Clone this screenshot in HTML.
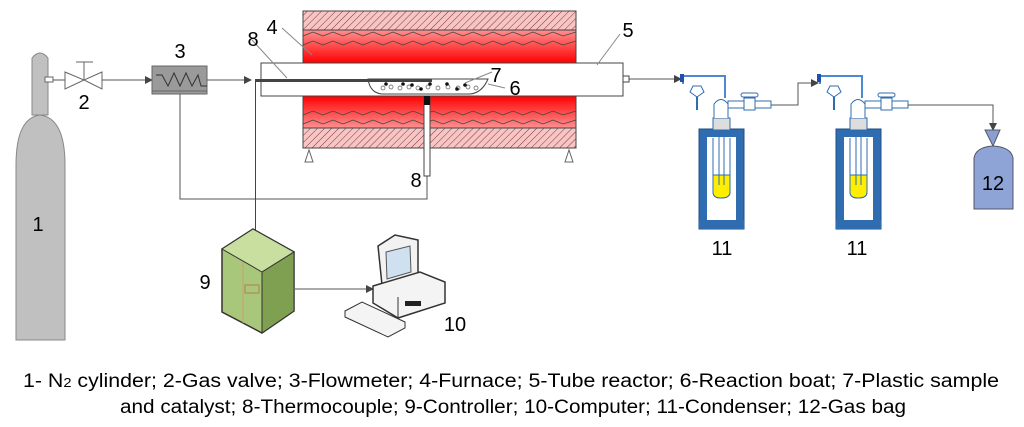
<!DOCTYPE html>
<html><head><meta charset="utf-8"><style>
html,body{margin:0;padding:0;background:#fff;}
svg{display:block;font-family:"Liberation Sans","DejaVu Sans",sans-serif;}
</style></head><body>
<svg width="1024" height="427" viewBox="0 0 1024 427" xmlns="http://www.w3.org/2000/svg">
<defs>
<pattern id="hatch" width="5" height="5" patternUnits="userSpaceOnUse" patternTransform="rotate(45)">
<rect width="5" height="5" fill="#f6c6c6"/><line x1="0" y1="0" x2="0" y2="5" stroke="#8a3030" stroke-width="1"/>
</pattern>
<linearGradient id="redT" x1="0" y1="0" x2="0" y2="1"><stop offset="0" stop-color="#ff9090"/><stop offset="1" stop-color="#ff0000"/></linearGradient>
<linearGradient id="redB" x1="0" y1="0" x2="0" y2="1"><stop offset="0" stop-color="#ff0000"/><stop offset="1" stop-color="#ff9090"/></linearGradient>
<marker id="ar" markerWidth="8" markerHeight="8" refX="7" refY="4" orient="auto" markerUnits="userSpaceOnUse"><path d="M0,0 L8,4 L0,8 Z" fill="#444"/></marker>
</defs>

<!-- cylinder -->
<path d="M32,115 L32,58 Q40,48 48,58 L48,115 Z" fill="#c0c0c0" stroke="#888"/>
<path d="M16,340 L16,165 Q16,118 40,115 Q65,118 65,165 L65,340 Z" fill="#c0c0c0" stroke="#888"/>
<rect x="45" y="77" width="8" height="5" fill="#fff" stroke="#666"/>
<text x="38" y="231" font-size="20" text-anchor="middle">1</text>

<!-- valve -->
<line x1="53" y1="80" x2="65" y2="80" stroke="#555"/>
<path d="M65,72 L84,80 L65,89 Z M102,72 L84,80 L102,89 Z" fill="#fff" stroke="#666"/>
<line x1="84" y1="62" x2="84" y2="80" stroke="#666"/><line x1="76" y1="62" x2="93" y2="62" stroke="#666"/>
<text x="84" y="109" font-size="20" text-anchor="middle">2</text>
<line x1="102" y1="80" x2="152" y2="80" stroke="#555" marker-end="url(#ar)"/>

<!-- flowmeter -->
<rect x="152" y="66" width="55" height="28" fill="#9a9a9a" stroke="#666"/>
<line x1="152" y1="91" x2="207" y2="91" stroke="#666"/>
<polyline points="156,75 162,75 168,86 174,73 180,86 186,73 192,86 198,75 201,86 207,86" fill="none" stroke="#333"/>
<text x="180" y="58" font-size="20" text-anchor="middle">3</text>
<line x1="207" y1="80" x2="251" y2="80" stroke="#555" marker-end="url(#ar)"/>
<polyline points="180,94 180,199 427,199 427,176" fill="none" stroke="#555"/>

<!-- furnace -->
<rect x="303" y="11" width="273" height="19" fill="url(#hatch)" stroke="#444"/>
<rect x="303" y="30" width="273" height="33" fill="url(#redT)" stroke="#444"/>
<polyline points="303,36 313,32 323,36 333,32 343,36 353,32 363,36 373,32 383,36 393,32 403,36 413,32 423,36 433,32 443,36 453,32 463,36 473,32 483,36 493,32 503,36 513,32 523,36 533,32 543,36 553,32 563,36 576,32" fill="none" stroke="#444" stroke-width="0.8"/>
<polyline points="303,45 313,41 323,45 333,41 343,45 353,41 363,45 373,41 383,45 393,41 403,45 413,41 423,45 433,41 443,45 453,41 463,45 473,41 483,45 493,41 503,45 513,41 523,45 533,41 543,45 553,41 563,45 576,41" fill="none" stroke="#444" stroke-width="0.8"/>
<rect x="303" y="96" width="273" height="32" fill="url(#redB)" stroke="#444"/>
<rect x="303" y="128" width="273" height="20" fill="url(#hatch)" stroke="#444"/>
<polyline points="303,115 313,111 323,115 333,111 343,115 353,111 363,115 373,111 383,115 393,111 403,115 413,111 423,115 433,111 443,115 453,111 463,115 473,111 483,115 493,111 503,115 513,111 523,115 533,111 543,115 553,111 563,115 576,111" fill="none" stroke="#444" stroke-width="0.8"/>
<polyline points="303,124 313,120 323,124 333,120 343,124 353,120 363,124 373,120 383,124 393,120 403,124 413,120 423,124 433,120 443,124 453,120 463,124 473,120 483,124 493,120 503,124 513,120 523,124 533,120 543,124 553,120 563,124 576,120" fill="none" stroke="#444" stroke-width="0.8"/>
<path d="M309,150 L305,162 L313,162 Z M569,150 L565,162 L573,162 Z" fill="#fff" stroke="#666"/>

<!-- tube -->
<rect x="261" y="63" width="362" height="33" fill="#fff" stroke="#444"/>
<rect x="623" y="76" width="6" height="6" fill="#fff" stroke="#444"/>
<line x1="629" y1="79" x2="681" y2="79" stroke="#555" marker-end="url(#ar)"/>
<!-- boat -->
<path d="M368,79 L488,79 Q482,93 470,94 L382,94 Q370,93 368,79 Z" fill="#fff" stroke="#444"/>
<g fill="#fff" stroke="#555" stroke-width="0.7">
<circle cx="383" cy="88" r="2"/><circle cx="391" cy="87" r="2"/><circle cx="400" cy="88" r="2"/><circle cx="409" cy="87" r="2"/><circle cx="418" cy="88" r="2"/><circle cx="428" cy="87" r="2"/><circle cx="438" cy="88" r="2"/><circle cx="448" cy="87" r="2"/><circle cx="458" cy="88" r="2"/><circle cx="468" cy="87" r="2"/><circle cx="476" cy="88" r="2"/></g>
<g fill="#111"><circle cx="386" cy="84" r="1.8"/><circle cx="403" cy="84" r="1.8"/><circle cx="412" cy="85" r="1.8"/><circle cx="421" cy="89" r="1.8"/><circle cx="430" cy="84" r="1.8"/><circle cx="447" cy="84" r="1.8"/><circle cx="457" cy="89" r="1.8"/><circle cx="465" cy="85" r="1.8"/></g>
<rect x="255" y="79" width="177" height="3" fill="#444"/>
<line x1="255.5" y1="79" x2="255.5" y2="235" stroke="#444"/>
<rect x="424" y="96" width="6" height="80" fill="#fff" stroke="#444"/>
<rect x="424" y="96" width="6" height="9" fill="#111"/>
<!-- leader lines -->
<line x1="252" y1="40" x2="287" y2="78" stroke="#888"/>
<line x1="282" y1="28" x2="312" y2="55" stroke="#888"/>
<line x1="620" y1="34" x2="597" y2="65" stroke="#888"/>
<line x1="492" y1="72" x2="465" y2="83" stroke="#888"/>
<line x1="505" y1="88" x2="488" y2="84" stroke="#888"/>
<text x="253" y="46" font-size="20" text-anchor="middle">8</text>
<text x="272" y="34" font-size="20" text-anchor="middle">4</text>
<text x="628" y="37" font-size="20" text-anchor="middle">5</text>
<text x="496" y="82" font-size="20" text-anchor="middle">7</text>
<text x="515" y="95" font-size="20" text-anchor="middle">6</text>
<text x="416" y="187" font-size="20" text-anchor="middle">8</text>

<!-- condensers -->
<g id="cond">
<rect x="699" y="129" width="45" height="100" fill="#2f6db0" stroke="#1f4f85"/>
<rect x="707" y="137" width="29" height="84" fill="#fff"/>
<rect x="699" y="220" width="45" height="9" fill="#2f6db0"/>
<rect x="713" y="118" width="17" height="12" fill="#ddd" stroke="#2f6db0"/>
<path d="M713,138 L713,192 Q713,198 721,198 Q730,198 730,192 L730,138" fill="#fff" stroke="#2f6db0"/>
<path d="M713,175 L730,175 L730,192 Q730,198 721,198 Q713,198 713,192 Z" fill="#ffee00" stroke="#2f6db0"/>
<line x1="719" y1="130" x2="719" y2="185" stroke="#2f6db0"/><line x1="724" y1="130" x2="724" y2="185" stroke="#2f6db0"/>
<path d="M714,118 L714,104 Q721,95 728,104 L728,118" fill="#fff" stroke="#2f6db0"/>
<polyline points="683,84 683,76 725,76 725,98" fill="none" stroke="#4a8ad0" stroke-width="2"/>
<rect x="680" y="74" width="4" height="8" fill="#1f4fb0"/>
<path d="M693,86 L701,86 L704,92 L697,97 L690,92 Z" fill="#fff" stroke="#2f6db0"/>
<line x1="697" y1="97" x2="697" y2="110" stroke="#2f6db0" stroke-width="2"/>
<rect x="728" y="101" width="43" height="7" fill="#fff" stroke="#2f6db0"/>
<rect x="744" y="98" width="11" height="12" fill="#fff" stroke="#2f6db0"/>
<rect x="741" y="93" width="17" height="4" rx="2" fill="#fff" stroke="#2f6db0"/>
</g>
<use href="#cond" x="137"/>
<polyline points="771,105 798,105 798,83 818,83" fill="none" stroke="#555" marker-end="url(#ar)"/>
<polyline points="908,105 993,105 993,130" fill="none" stroke="#555" marker-end="url(#ar)"/>
<text x="722" y="255" font-size="20" text-anchor="middle">11</text>
<text x="857" y="255" font-size="20" text-anchor="middle">11</text>

<!-- gas bag -->
<path d="M985,130 L1000,130 L993,146 Z" fill="#8a9fd0" stroke="#556"/>
<path d="M974,209 L974,158 Q976,147 993,146 Q1011,147 1013,158 L1013,209 Z" fill="#8ea3d6" stroke="#556"/>
<text x="993" y="190" font-size="20" text-anchor="middle">12</text>

<!-- controller -->
<path d="M222,249 L253,229 L294,252 L294,311 L262,333 L222,312 Z" fill="#a9c77a" stroke="#333" stroke-width="1.5"/>
<path d="M222,249 L253,229 L294,252 L262,272 Z" fill="#c9df9f" stroke="#333"/>
<path d="M262,272 L294,252 L294,311 L262,333 Z" fill="#7fa050" stroke="#333"/>
<line x1="243" y1="262" x2="243" y2="323" stroke="#c8a070"/>
<rect x="245" y="285" width="14" height="8" fill="none" stroke="#b08050"/>
<text x="205" y="289" font-size="20" text-anchor="middle">9</text>
<line x1="295" y1="289" x2="373" y2="289" stroke="#555" marker-end="url(#ar)"/>

<!-- computer -->
<path d="M378,246 L395,235 L418,240 L418,275 L382,285 Z" fill="#f2f2f2" stroke="#333" stroke-width="1.5"/>
<path d="M386,252 L410,246 L411,272 L387,279 Z" fill="#cfe0f0" stroke="#555"/>
<path d="M373,286 L420,272 L445,282 L445,303 L398,318 L373,303 Z" fill="#f4f4f4" stroke="#333" stroke-width="1.5"/>
<line x1="398" y1="297" x2="398" y2="318" stroke="#333"/>
<rect x="405" y="301" width="16" height="5" fill="#222"/>
<path d="M345,311 L362,302 L405,322 L405,328 L388,337 L345,317 Z" fill="#f4f4f4" stroke="#333"/>
<text x="455" y="331" font-size="20" text-anchor="middle">10</text>

<!-- caption -->
<text x="23" y="387" font-size="19" textLength="976" lengthAdjust="spacingAndGlyphs">1- N<tspan font-size="13">2</tspan> cylinder; 2-Gas valve; 3-Flowmeter; 4-Furnace; 5-Tube reactor; 6-Reaction boat; 7-Plastic sample</text>
<text x="120" y="413" font-size="19" textLength="786" lengthAdjust="spacingAndGlyphs">and catalyst; 8-Thermocouple; 9-Controller; 10-Computer; 11-Condenser; 12-Gas bag</text>
</svg>
</body></html>
